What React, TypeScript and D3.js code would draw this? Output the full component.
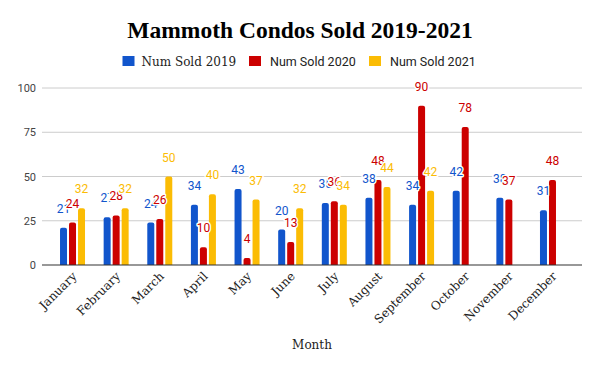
import React, { useEffect, useRef } from 'react';
import * as d3 from 'd3';

const months = ['January', 'February', 'March', 'April', 'May', 'June', 'July', 'August', 'September', 'October', 'November', 'December'];
const seriesNames = ['Num Sold 2019', 'Num Sold 2020', 'Num Sold 2021'];
const sold2019 = [21, 27, 24, 34, 43, 20, 35, 38, 34, 42, 38, 31];
const sold2020 = [24, 28, 26, 10, 4, 13, 36, 48, 90, 78, 37, 48];
const sold2021 = [32, 32, 50, 40, 37, 32, 34, 44, 42, null, null, null];
const colors = ['#1155cc', '#cc0000', '#fbbc04'];
const yTicks = [0, 25, 50, 75, 100];

const W = 600;
const H = 371;

const App = () => {
  const ref = useRef<SVGSVGElement>(null);

  useEffect(() => {
    const svg = d3.select(ref.current);
    svg.selectAll('*').remove();

    const series = [sold2019, sold2020, sold2021];
    const left = 42, right = 582, top = 88, bottom = 265;

    const y = d3.scaleLinear().domain([0, 100]).range([bottom, top]);
    const x = d3.scaleBand().domain(months).range([50.7, 574.3]);
    const barW = 7;
    const inner = d3.scaleLinear().domain([0, 2]).range([-9, 9]); // offset of each series in a group

    // title
    svg.append('text')
      .attr('x', W / 2).attr('y', 38)
      .attr('text-anchor', 'middle')
      .style('font-family', '"Liberation Serif", serif')
      .style('font-weight', 'bold')
      .style('font-size', '23.5px')
      .attr('fill', '#000')
      .text('Mammoth Condos Sold 2019-2021');

    // legend
    const legendX = [122.5, 249, 369];
    seriesNames.forEach((name, i) => {
      const g = svg.append('g').attr('transform', `translate(${legendX[i]},56)`);
      g.append('rect').attr('width', 12).attr('height', 10).attr('fill', colors[i]);
      g.append('text')
        .attr('x', i === 0 ? 19 : 21).attr('y', 9.5)
        .style('font-family', i === 0 ? '"DejaVu Serif", serif' : 'Roboto, sans-serif')
        .style('font-size', i === 0 ? '12px' : '12.5px')
        .attr('fill', '#222')
        .text(name);
    });

    // grid
    svg.append('g').selectAll('line').data(yTicks.slice(1)).join('line')
      .attr('x1', left).attr('x2', right)
      .attr('y1', d => y(d)).attr('y2', d => y(d))
      .attr('stroke', '#cccccc').attr('stroke-width', 1);

    svg.append('g').selectAll('text').data(yTicks).join('text')
      .attr('x', 36).attr('y', d => y(d) + 4)
      .attr('text-anchor', 'end')
      .style('font-family', 'Roboto, sans-serif')
      .style('font-size', '11px')
      .attr('fill', '#444')
      .text(d => d);

    // bars with rounded tops
    const barPath = (cx: number, v: number) => {
      const x0 = cx - barW / 2, x1 = cx + barW / 2;
      const yt = y(v), r = Math.min(2, (bottom - yt) / 2);
      return `M${x0},${bottom}V${yt + r}Q${x0},${yt} ${x0 + r},${yt}H${x1 - r}Q${x1},${yt} ${x1},${yt + r}V${bottom}Z`;
    };

    series.forEach((vals, si) => {
      svg.append('g').selectAll('path')
        .data(vals.map((v, i) => ({ v, m: months[i] })).filter(d => d.v != null))
        .join('path')
        .attr('d', d => barPath(x(d.m)! + x.bandwidth() / 2 + inner(si), d.v as number))
        .attr('fill', colors[si]);
    });

    svg.append('line')
      .attr('x1', left).attr('x2', right)
      .attr('y1', bottom).attr('y2', bottom)
      .attr('stroke', '#333').attr('stroke-width', 1.2);

    // value labels
    series.forEach((vals, si) => {
      svg.append('g').selectAll('text')
        .data(vals.map((v, i) => ({ v, m: months[i] })).filter(d => d.v != null))
        .join('text')
        .attr('x', d => x(d.m)! + x.bandwidth() / 2 + inner(si))
        .attr('y', d => y(d.v as number) - 15)
        .attr('text-anchor', 'middle')
        .style('font-family', 'Roboto, sans-serif')
        .style('font-size', '12px')
        .style('paint-order', 'stroke')
        .attr('stroke', '#fff').attr('stroke-width', 3).attr('stroke-linejoin', 'round')
        .attr('fill', colors[si])
        .text(d => d.v as number);
    });

    // x labels
    svg.append('g').selectAll('text').data(months).join('text')
      .attr('transform', d => `translate(${x(d)! + x.bandwidth() / 2 + 5},${bottom + 12}) rotate(-45)`)
      .attr('text-anchor', 'end')
      .style('font-family', '"DejaVu Serif", serif')
      .style('font-size', '12px')
      .attr('fill', '#222')
      .text(d => d);

    svg.append('text')
      .attr('x', 312).attr('y', 349)
      .attr('text-anchor', 'middle')
      .style('font-family', '"DejaVu Serif", serif')
      .style('font-size', '12px')
      .attr('fill', '#222')
      .text('Month');
  }, []);

  return (
    <svg ref={ref} width={W} height={H} style={{ position: 'absolute', left: 0, top: 0, background: '#fff' }} />
  );
};

export default App;
